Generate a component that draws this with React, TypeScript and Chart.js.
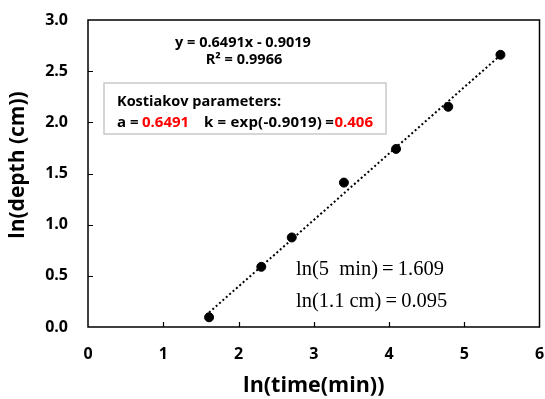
import React, { useEffect, useRef } from "react";
import { Chart, registerables } from "chart.js";

Chart.register(...registerables);

// Measured points: ln(time in minutes) vs ln(depth in cm)
const lnTime = [1.609, 2.303, 2.708, 3.401, 4.094, 4.787, 5.481];
const lnDepth = [0.095, 0.588, 0.875, 1.411, 1.74, 2.152, 2.66];

// Linear trendline endpoints (y = 0.6491x - 0.9019)
const trendX = [1.609, 5.481];
const trendY = [0.142, 2.656];

const xTicks = [0, 1, 2, 3, 4, 5, 6];
const yTicks = [0, 0.5, 1.0, 1.5, 2.0, 2.5, 3.0];

const eqLine = "y = 0.6491x - 0.9019";
const r2Line = "R² = 0.9966";
const boxTitle = "Kostiakov parameters:";
const lnTimeNote = "ln(5  min)\u2009=\u20091.609";
const lnDepthNote = "ln(1.1 cm)\u2009=\u20090.095";

const SANS = "'Open Sans', 'Noto Sans', sans-serif";
const SERIF = "'Liberation Serif', 'DejaVu Serif', serif";

const decorPlugin = {
  id: "decor",
  afterDraw(chart: any) {
    const ctx = chart.ctx as CanvasRenderingContext2D;
    const area = chart.chartArea;
    const xs = chart.scales.x;
    const ys = chart.scales.y;
    ctx.save();
    // frame
    ctx.strokeStyle = "#000";
    ctx.lineWidth = 1.5;
    ctx.strokeRect(area.left, area.top, area.right - area.left, area.bottom - area.top);
    // inward ticks
    ctx.lineWidth = 1.2;
    ctx.beginPath();
    xTicks.slice(1, -1).forEach((v) => {
      const px = Math.round(xs.getPixelForValue(v)) + 0.5;
      ctx.moveTo(px, area.bottom);
      ctx.lineTo(px, area.bottom - 5);
    });
    yTicks.slice(1, -1).forEach((v) => {
      const py = Math.round(ys.getPixelForValue(v)) + 0.5;
      ctx.moveTo(area.left, py);
      ctx.lineTo(area.left + 5, py);
    });
    ctx.stroke();

    // axis titles
    ctx.fillStyle = "#000";
    ctx.textAlign = "center";
    ctx.textBaseline = "middle";
    ctx.font = `bold 21.5px ${SANS}`;
    ctx.fillText("ln(time(min))", (area.left + area.right) / 2, 386);
    ctx.save();
    ctx.font = `bold 21px ${SANS}`;
    ctx.translate(18, 165);
    ctx.rotate(-Math.PI / 2);
    ctx.fillText("ln(depth (cm))", 0, 0);
    ctx.restore();

    // equation
    ctx.font = `bold 14.5px ${SANS}`;
    ctx.fillText(eqLine, 243, 43);
    ctx.fillText(r2Line, 244, 60);

    // parameters box
    ctx.fillStyle = "#fff";
    ctx.fillRect(104, 83, 282, 51);
    ctx.strokeStyle = "#c8c8c8";
    ctx.lineWidth = 1.5;
    ctx.strokeRect(104, 83, 282, 51);
    ctx.textAlign = "left";
    ctx.font = `bold 14.5px ${SANS}`;
    ctx.fillStyle = "#000";
    ctx.fillText(boxTitle, 117, 102);
    ctx.font = `bold 15px ${SANS}`;
    ctx.fillText("a =", 117, 123);
    ctx.fillStyle = "#ff0000";
    ctx.fillText("0.6491", 142, 123);
    ctx.fillStyle = "#000";
    (ctx as any).letterSpacing = "0.2px";
    ctx.fillText("k = exp(-0.9019)", 204, 123);
    (ctx as any).letterSpacing = "0px";
    ctx.textAlign = "right";
    ctx.fillStyle = "#ff0000";
    const redW = ctx.measureText("0.406").width;
    ctx.fillText("0.406", 373, 123);
    ctx.fillStyle = "#000";
    ctx.fillText("=", 373 - redW - 0.5, 123);

    // notes
    ctx.textAlign = "left";
    ctx.fillStyle = "#000";
    ctx.font = `20.5px ${SERIF}`;
    ctx.fillText(lnTimeNote, 296, 270);
    ctx.fillText(lnDepthNote, 296, 302);
    ctx.restore();
  },
};

export default function App() {
  const ref = useRef<HTMLCanvasElement | null>(null);
  useEffect(() => {
    if (!ref.current) return;
    const chart = new Chart(ref.current, {
      type: "scatter",
      data: {
        datasets: [
          {
            type: "line",
            label: "trend",
            data: trendX.map((x, i) => ({ x, y: trendY[i] })),
            borderColor: "#000",
            borderWidth: 2,
            borderDash: [2, 2.5],
            pointRadius: 0,
            fill: false,
          } as any,
          {
            label: "data",
            data: lnTime.map((x, i) => ({ x, y: lnDepth[i] })),
            backgroundColor: "#000",
            borderColor: "#000",
            pointRadius: 4.5,
          },
        ],
      },
      options: {
        responsive: false,
        animation: false,
        layout: { padding: { top: 20, right: 4, left: 0, bottom: 0 } },
        plugins: { legend: { display: false }, tooltip: { enabled: false } },
        scales: {
          x: {
            type: "linear",
            min: 0,
            max: 6,
            afterBuildTicks: (s: any) => {
              s.ticks = xTicks.map((v) => ({ value: v }));
            },
            afterFit: (s: any) => {
              s.height = 72;
              s.paddingLeft = 0;
              s.paddingRight = 0;
            },
            grid: { display: false, drawTicks: false },
            border: { display: false },
            ticks: {
              padding: 18,
              color: "#000",
              font: { family: SANS, size: 16, weight: "bold" },
              maxRotation: 0,
              callback: (v: any) => String(v),
            },
          },
          y: {
            type: "linear",
            min: 0,
            max: 3,
            afterBuildTicks: (s: any) => {
              s.ticks = yTicks.map((v) => ({ value: v }));
            },
            afterFit: (s: any) => {
              s.width = 88;
              s.paddingTop = 0;
              s.paddingBottom = 0;
            },
            grid: { display: false, drawTicks: false },
            border: { display: false },
            ticks: {
              padding: 20,
              color: "#000",
              font: { family: SANS, size: 16, weight: "bold" },
              callback: (v: any) => Number(v).toFixed(1),
            },
          },
        },
      },
      plugins: [decorPlugin],
    });
    return () => chart.destroy();
  }, []);
  return (
    <div style={{ position: "fixed", left: 0, top: 0, width: 545, height: 399, background: "#fff" }}>
      <canvas ref={ref} width={545} height={399} />
    </div>
  );
}
